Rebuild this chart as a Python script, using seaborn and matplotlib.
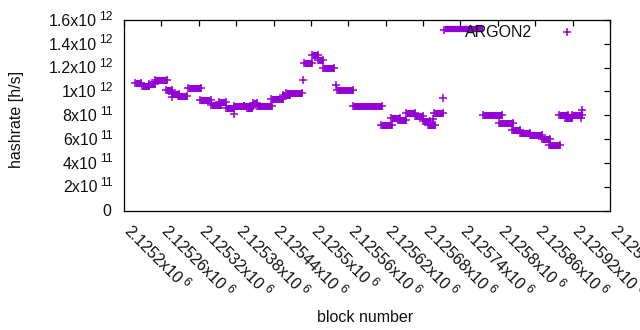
import numpy as np
import pandas as pd
import matplotlib
matplotlib.use("Agg")
import matplotlib.pyplot as plt
import seaborn as sns
from matplotlib.ticker import FixedLocator
from matplotlib.lines import Line2D

series_name = "ARGON2"
x_label = "block number"
y_label = "hashrate [h/s]"

# runs of (nearly) constant hashrate: first block, last block, hashrate [h/s]
seg_start = [2125218, 2125229, 2125240, 2125250, 2125267, 2125277, 2125277, 2125287,
             2125303, 2125322, 2125340, 2125352, 2125364, 2125377, 2125377, 2125393,
             2125398, 2125407, 2125413, 2125436, 2125455, 2125460, 2125487, 2125489,
             2125502, 2125511, 2125519, 2125540, 2125542, 2125568, 2125612, 2125629,
             2125640, 2125653, 2125667, 2125680, 2125688, 2125696, 2125698, 2125712,
             2125776, 2125802, 2125823, 2125836, 2125852, 2125871, 2125882, 2125898,
             2125908, 2125919, 2125933, 2125935]
seg_end = [2125227, 2125240, 2125250, 2125269, 2125277, 2125277, 2125288, 2125301,
           2125324, 2125340, 2125356, 2125364, 2125377, 2125377, 2125393, 2125407,
           2125405, 2125413, 2125438, 2125455, 2125466, 2125486, 2125487, 2125502,
           2125511, 2125519, 2125537, 2125540, 2125568, 2125614, 2125630, 2125643,
           2125653, 2125667, 2125680, 2125691, 2125699, 2125696, 2125712, 2125712,
           2125807, 2125824, 2125836, 2125852, 2125871, 2125884, 2125900, 2125913,
           2125919, 2125935, 2125933, 2125935]
seg_hashrate = [1.075e12, 1.046e12, 1.063e12, 1.100e12, 1.012e12, 0.953e12, 0.979e12, 0.962e12,
                1.025e12, 0.924e12, 0.886e12, 0.911e12, 0.861e12, 0.811e12, 0.874e12, 0.878e12,
                0.857e12, 0.899e12, 0.878e12, 0.937e12, 0.970e12, 0.987e12, 1.100e12, 1.235e12,
                1.310e12, 1.268e12, 1.197e12, 1.058e12, 1.008e12, 0.874e12, 0.722e12, 0.777e12,
                0.764e12, 0.823e12, 0.794e12, 0.748e12, 0.722e12, 0.769e12, 0.823e12, 0.949e12,
                0.798e12, 0.731e12, 0.680e12, 0.655e12, 0.630e12, 0.601e12, 0.554e12, 0.806e12,
                0.781e12, 0.806e12, 0.777e12, 0.844e12]

x_tick_values = [2125200, 2125260, 2125320, 2125380, 2125440, 2125500, 2125560,
                 2125620, 2125680, 2125740, 2125800, 2125860, 2125920, 2125980]
y_tick_values = [0, 2e11, 4e11, 6e11, 8e11, 1e12, 1.2e12, 1.4e12, 1.6e12]

color = "#9400D3"
txt_color = "#111111"
FS = 11.5
SUP = 8.8
PX = 72 / 100.0  # pixels -> points

sns.set_style("white")
plt.rcParams["font.family"] = ["Liberation Sans", "DejaVu Sans"]
plt.rcParams["font.size"] = FS

seg = pd.DataFrame({"start": seg_start, "end": seg_end, "hashrate": seg_hashrate})
pts = pd.concat([
    pd.DataFrame({"block": seg["start"], "hashrate": seg["hashrate"]}),
    pd.DataFrame({"block": seg["end"], "hashrate": seg["hashrate"]}),
]).drop_duplicates()

fig = plt.figure(figsize=(6.4, 3.3), dpi=100)
ax = fig.add_axes([124 / 640, 1 - 210.5 / 330, 486 / 640, 190.5 / 330])

runs = seg[seg["end"] > seg["start"]]
ax.hlines(runs["hashrate"], runs["start"], runs["end"], colors=color,
          linewidth=5.0, zorder=2)
sns.scatterplot(data=pts, x="block", y="hashrate", marker="+", s=32,
                color=color, linewidth=1.1, ax=ax, zorder=3, legend=False)

ax.set_xlim(x_tick_values[0], x_tick_values[-1])
ax.set_ylim(y_tick_values[0], y_tick_values[-1])
ax.xaxis.set_major_locator(FixedLocator(x_tick_values))
ax.yaxis.set_major_locator(FixedLocator(y_tick_values))
ax.tick_params(axis="both", direction="in", length=4, width=0.9, color="black",
               top=True, right=True, labelbottom=False, labelleft=False)
for sp in ax.spines.values():
    sp.set_visible(True)
    sp.set_color("black")
    sp.set_linewidth(0.9)
ax.set_xlabel("")
ax.set_ylabel("")

renderer = fig.canvas.get_renderer()


def width_px(s, size):
    t = fig.text(0, 0, s, fontsize=size)
    w = t.get_window_extent(renderer).width
    t.remove()
    return w


def split_sci(v):
    if v == 0:
        return "0", None
    e = int(np.floor(np.log10(abs(v)) + 1e-9))
    m = round(v / 10 ** e, 3)
    return "%gx10" % m, "%d" % e


# y tick labels (gnuplot enhanced style: mantissa x10 + superscript exponent)
for v in y_tick_values:
    base, exp = split_sci(v)
    if exp is None:
        ax.annotate(base, xy=(0, v), xycoords=("axes fraction", "data"),
                    xytext=(-12.5 * PX, -5.8 * PX), textcoords="offset points",
                    ha="right", va="baseline", fontsize=FS, color=txt_color,
                    annotation_clip=False)
        continue
    wb = width_px(base, FS)
    ws = width_px(exp, SUP)
    gap = 3.0
    total = wb + gap + ws
    ax.annotate(base, xy=(0, v), xycoords=("axes fraction", "data"),
                xytext=(-(11 + total) * PX, -5.8 * PX), textcoords="offset points",
                ha="left", va="baseline", fontsize=FS, color=txt_color,
                annotation_clip=False)
    ax.annotate(exp, xy=(0, v), xycoords=("axes fraction", "data"),
                xytext=(-(11 + ws) * PX, 0.4 * PX), textcoords="offset points",
                ha="left", va="baseline", fontsize=SUP, color=txt_color,
                annotation_clip=False)

# x tick labels rotated -45 degrees
ang = np.deg2rad(-45)
u = np.array([np.cos(ang), np.sin(ang)])
n = np.array([-np.sin(ang), np.cos(ang)])
for t in x_tick_values:
    base = "%gx10" % round(t / 1e6, 6)
    exp = "6"
    A = np.array([-1.0, -21.5])
    wb = width_px(base, FS)
    S = A + (wb + 3.0) * u + 6.0 * n
    ax.annotate(base, xy=(t, 0), xycoords=("data", "axes fraction"),
                xytext=tuple(A * PX), textcoords="offset points",
                rotation=-45, rotation_mode="anchor", ha="left", va="baseline",
                fontsize=FS, color=txt_color, annotation_clip=False)
    ax.annotate(exp, xy=(t, 0), xycoords=("data", "axes fraction"),
                xytext=tuple(S * PX), textcoords="offset points",
                rotation=-45, rotation_mode="anchor", ha="left", va="baseline",
                fontsize=SUP, color=txt_color, annotation_clip=False)

# axis titles
fig.text(365 / 640, 1 - 318 / 330, x_label, ha="center", va="center",
         fontsize=FS, color=txt_color)
fig.text(17 / 640, 1 - 119 / 330, y_label, ha="center", va="center",
         rotation=90, fontsize=FS, color=txt_color)

# key (gnuplot style)
ax.add_line(Line2D([0.660, 0.739], [0.953, 0.953], transform=ax.transAxes,
                   color=color, linewidth=4.5, solid_capstyle="butt", zorder=4))
ax.add_line(Line2D([0.658], [0.95], transform=ax.transAxes, color=color,
                   marker="+", markersize=6, markeredgewidth=1.1, linestyle="none", zorder=4))
ax.text(0.702, 0.937, series_name, transform=ax.transAxes, ha="left", va="center",
        fontsize=FS, color=txt_color, zorder=5)
ax.add_line(Line2D([0.912], [0.937], transform=ax.transAxes, color=color,
                   marker="+", markersize=6, markeredgewidth=1.1, linestyle="none", zorder=4))

fig.savefig("out.png", dpi=100)
